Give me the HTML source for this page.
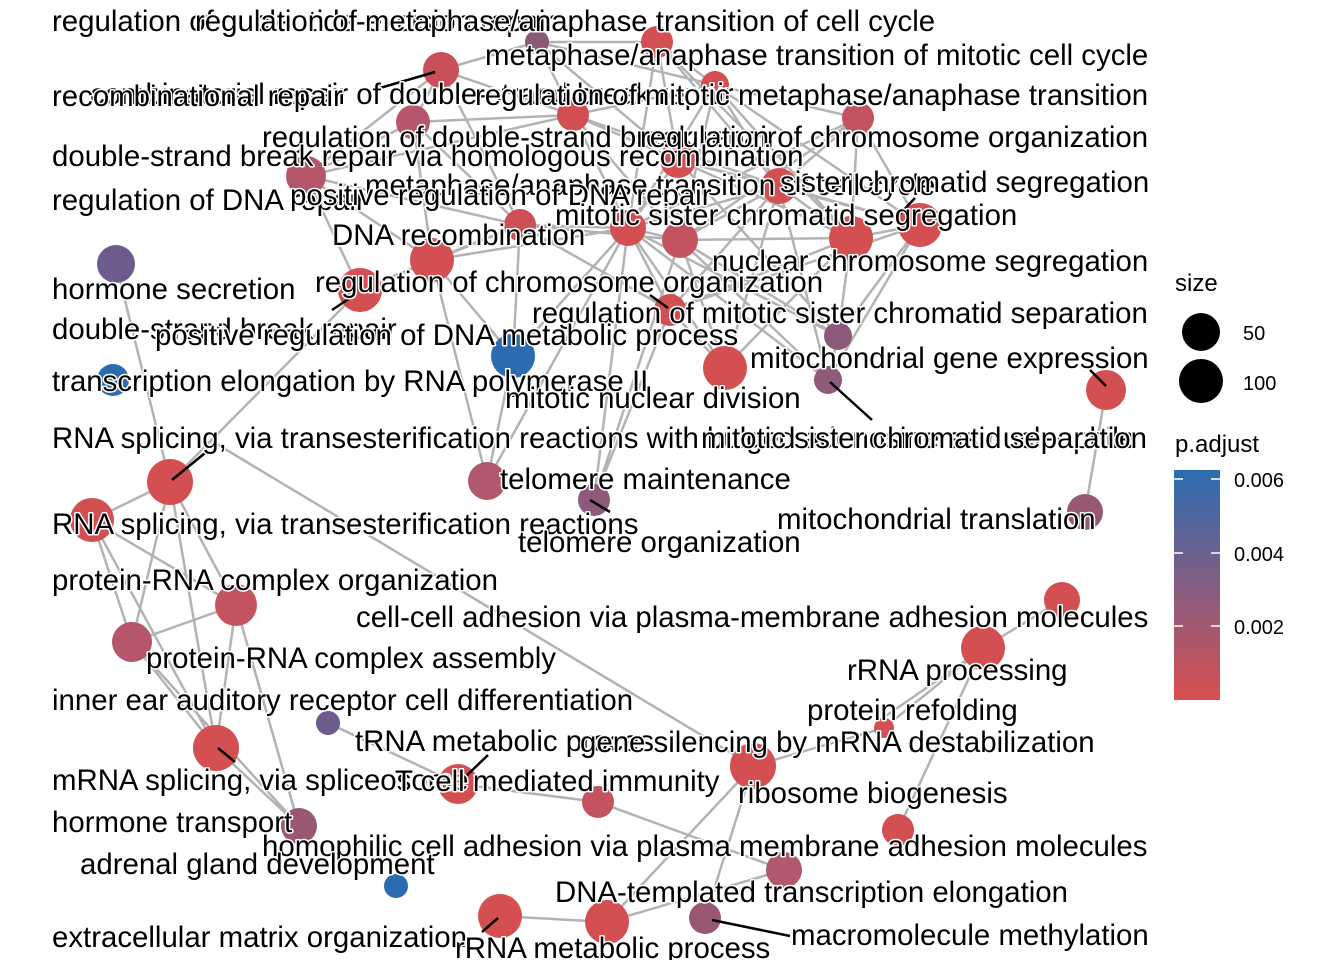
<!DOCTYPE html>
<html><head><meta charset="utf-8"><style>
html,body{margin:0;padding:0;background:#fff;}
svg text{font-family:"Liberation Sans",Arial,sans-serif;}
.l{font-size:29.4px;fill:#000;stroke:#fff;stroke-width:3px;paint-order:stroke;stroke-linejoin:round;}
.g{stroke:#b3b3b3;stroke-width:2.5;fill:none;}
.k{stroke:#000;stroke-width:2.5;}
</style></head><body>
<svg width="1344" height="960" viewBox="0 0 1344 960" xmlns="http://www.w3.org/2000/svg">
<defs><linearGradient id="gr" x1="0" y1="0" x2="0" y2="1"><stop offset="0" stop-color="#2b6cb0"/><stop offset="0.45" stop-color="#7b5f88"/><stop offset="1" stop-color="#d94f50"/></linearGradient></defs>
<g class="g">
<path d="M537 42L657 42L715 85L858 118L920 225L851 238L779 186L678 160L573 115L441 70L413 122L306 176L432 260L520 225L628 228L680 240L851 238M657 42L678 160L628 228M715 85L680 240L838 336M715 85L779 186L920 225M573 115L628 228L725 368M441 70L573 115L715 85M413 122L520 225L670 310M306 176L520 225M306 176L573 115M432 260L513 356M360 290L432 260L413 122M360 290L520 225M670 310L851 238L838 336L828 380M725 368L851 238M725 368L680 240M828 380L920 225M828 380L779 186M838 336L678 160M858 118L680 240M858 118L628 228M537 42L678 160M537 42L573 115M657 42L851 238M715 85L920 225M678 160L920 225M779 186L628 228M779 186L851 238M670 310L628 228M670 310L779 186M513 356L520 225M513 356L628 228M487 481L513 356M594 500L680 240M594 500L628 228M487 481L432 260M670 310L725 368M725 368L779 186M838 336L920 225M858 118L779 186M413 122L441 70M306 176L413 122M441 70L537 42M432 260L306 176M657 42L779 186M657 42L628 228M715 85L628 228M715 85L851 238M573 115L779 186M573 115L680 240M678 160L851 238M678 160L838 336M858 118L851 238M858 118L920 225M779 186L680 240M680 240L828 380M628 228L838 336M628 228L828 380M520 225L680 240M432 260L628 228M413 122L573 115M306 176L441 70M537 42L715 85M537 42L441 70M670 310L920 225M725 368L628 228M858 118L628 228M715 85L858 118M851 238L920 225M680 240L725 368M594 500L670 310M487 481L628 228M360 290L306 176M441 70L520 225M306 176L360 290"/>
<path d="M116 264L170 482M360 290L170 482M170 482L92 520L236 605L132 642L92 520L216 748L299 826M170 482L236 605L216 748L132 642L299 826M170 482L132 642M170 482L216 748M92 520L132 642M236 605L299 826M210 440L753 766M1106 390L1085 512M1062 600L983 648L884 728L753 766M983 648L898 830M753 766L607 922M784 870L598 802M784 870L607 922M705 918L753 766M458 784L598 802M328 723L458 784M500 916L607 922M880 720L984 648"/>
</g>
<g>
<circle cx="537" cy="42" r="12" fill="#8a5878"/><circle cx="657" cy="42" r="16" fill="#d34f52"/><circle cx="441" cy="70" r="18" fill="#c9505a"/><circle cx="715" cy="85" r="14" fill="#d34f52"/><circle cx="573" cy="115" r="16" fill="#d34f52"/><circle cx="413" cy="122" r="17" fill="#b5566a"/><circle cx="858" cy="118" r="16" fill="#c3535f"/><circle cx="678" cy="160" r="18" fill="#d34f52"/><circle cx="306" cy="176" r="20" fill="#b5566a"/><circle cx="779" cy="186" r="18" fill="#d34f52"/><circle cx="520" cy="225" r="16" fill="#cd5057"/><circle cx="628" cy="228" r="18" fill="#d34f52"/><circle cx="680" cy="240" r="18" fill="#c3535f"/><circle cx="851" cy="238" r="22" fill="#d34f52"/><circle cx="920" cy="225" r="22" fill="#d34f52"/><circle cx="432" cy="260" r="22" fill="#d34f52"/><circle cx="116" cy="264" r="19" fill="#6c5b8c"/><circle cx="360" cy="290" r="22" fill="#d34f52"/><circle cx="670" cy="310" r="16" fill="#d34f52"/><circle cx="838" cy="336" r="14" fill="#8e5a7c"/><circle cx="513" cy="356" r="22" fill="#2b6cb0"/><circle cx="725" cy="368" r="22" fill="#d34f52"/><circle cx="828" cy="380" r="14" fill="#8e5a7c"/><circle cx="113" cy="380" r="16" fill="#2b6cb0"/><circle cx="1106" cy="390" r="20" fill="#d34f52"/><circle cx="170" cy="482" r="23" fill="#d34f52"/><circle cx="487" cy="481" r="19" fill="#b0586c"/><circle cx="594" cy="500" r="16" fill="#8e5a7c"/><circle cx="1085" cy="512" r="18" fill="#985874"/><circle cx="92" cy="520" r="22" fill="#d34f52"/><circle cx="236" cy="605" r="21" fill="#c3535f"/><circle cx="1062" cy="600" r="18" fill="#d34f52"/><circle cx="132" cy="642" r="20" fill="#b5566a"/><circle cx="983" cy="648" r="22" fill="#d34f52"/><circle cx="328" cy="723" r="12" fill="#6c5b8c"/><circle cx="216" cy="748" r="23" fill="#d34f52"/><circle cx="884" cy="728" r="10" fill="#d34f52"/><circle cx="753" cy="766" r="23" fill="#d34f52"/><circle cx="458" cy="784" r="20" fill="#d34f52"/><circle cx="598" cy="802" r="16" fill="#c3535f"/><circle cx="299" cy="826" r="18" fill="#985874"/><circle cx="898" cy="830" r="16" fill="#d34f52"/><circle cx="784" cy="870" r="18" fill="#b0586c"/><circle cx="396" cy="886" r="12" fill="#2b6cb0"/><circle cx="500" cy="916" r="22" fill="#d34f52"/><circle cx="607" cy="922" r="22" fill="#d34f52"/><circle cx="705" cy="918" r="16" fill="#985874"/>
</g>
<g class="k">
<line x1="380" y1="88" x2="435" y2="72"/><line x1="650" y1="295" x2="668" y2="308"/><line x1="900" y1="214" x2="915" y2="198"/><line x1="332" y1="310" x2="350" y2="298"/><line x1="830" y1="382" x2="872" y2="420"/><line x1="1090" y1="370" x2="1106" y2="386"/><line x1="172" y1="480" x2="205" y2="453"/><line x1="590" y1="500" x2="610" y2="512"/><line x1="218" y1="748" x2="235" y2="762"/><line x1="462" y1="780" x2="488" y2="755"/><line x1="482" y1="932" x2="498" y2="918"/><line x1="712" y1="920" x2="790" y2="936"/>
</g>
<g class="l">
<text x="52" y="31">regulation of nucleotide-excision repair</text>
<text x="195" y="31">regulation of metaphase/anaphase transition of cell cycle</text>
<text x="485" y="65">metaphase/anaphase transition of mitotic cell cycle</text>
<text x="90" y="104">combinatorial repair of double-strand break repair</text>
<text x="52" y="106">recombinational repair</text>
<text x="475" y="105">regulation of mitotic metaphase/anaphase transition</text>
<text x="262" y="147">regulation of double-strand break repair</text>
<text x="640" y="147">regulation of chromosome organization</text>
<text x="52" y="166">double-strand break repair via homologous recombination</text>
<text x="365" y="195">metaphase/anaphase transition of cell cycle</text>
<text x="780" y="192">sister chromatid segregation</text>
<text x="52" y="210">regulation of DNA repair</text>
<text x="290" y="205">positive regulation of DNA repair</text>
<text x="555" y="225">mitotic sister chromatid segregation</text>
<text x="332" y="245">DNA recombination</text>
<text x="712" y="271">nuclear chromosome segregation</text>
<text x="315" y="292">regulation of chromosome organization</text>
<text x="52" y="299">hormone secretion</text>
<text x="532" y="323">regulation of mitotic sister chromatid separation</text>
<text x="52" y="339">double-strand break repair</text>
<text x="155" y="345">positive regulation of DNA metabolic process</text>
<text x="750" y="368">mitochondrial gene expression</text>
<text x="52" y="391">transcription elongation by RNA polymerase II</text>
<text x="505" y="408">mitotic nuclear division</text>
<text x="52" y="448">RNA splicing, via transesterification reactions with bulged adenosine as nucleophile</text>
<text x="701" y="448">mitotic sister chromatid separation</text>
<text x="500" y="489">telomere maintenance</text>
<text x="52" y="534">RNA splicing, via transesterification reactions</text>
<text x="777" y="529">mitochondrial translation</text>
<text x="518" y="552">telomere organization</text>
<text x="52" y="590">protein-RNA complex organization</text>
<text x="356" y="627">cell-cell adhesion via plasma-membrane adhesion molecules</text>
<text x="146" y="668">protein-RNA complex assembly</text>
<text x="847" y="680">rRNA processing</text>
<text x="52" y="710">inner ear auditory receptor cell differentiation</text>
<text x="807" y="720">protein refolding</text>
<text x="355" y="751">tRNA metabolic process</text>
<text x="580" y="752">gene silencing by mRNA destabilization</text>
<text x="52" y="790">mRNA splicing, via spliceosome</text>
<text x="395" y="791">T cell mediated immunity</text>
<text x="738" y="803">ribosome biogenesis</text>
<text x="52" y="832">hormone transport</text>
<text x="262" y="856">homophilic cell adhesion via plasma membrane adhesion molecules</text>
<text x="80" y="874">adrenal gland development</text>
<text x="555" y="902">DNA-templated transcription elongation</text>
<text x="52" y="947">extracellular matrix organization</text>
<text x="791" y="945">macromolecule methylation</text>
<text x="455" y="958">rRNA metabolic process</text>
</g>
<text x="1175" y="291" font-size="24">size</text>
<circle cx="1201" cy="332" r="19" fill="#000"/><circle cx="1201" cy="381" r="22" fill="#000"/>
<text x="1243" y="340" font-size="20">50</text><text x="1243" y="390" font-size="20">100</text>
<text x="1175" y="452" font-size="24">p.adjust</text>
<rect x="1174" y="470" width="46" height="230" fill="url(#gr)"/>
<g stroke="#fff" stroke-width="1.5"><line x1="1174" y1="479" x2="1183" y2="479"/><line x1="1211" y1="479" x2="1220" y2="479"/><line x1="1174" y1="553" x2="1183" y2="553"/><line x1="1211" y1="553" x2="1220" y2="553"/><line x1="1174" y1="626" x2="1183" y2="626"/><line x1="1211" y1="626" x2="1220" y2="626"/></g>
<text x="1234" y="487" font-size="20">0.006</text><text x="1234" y="561" font-size="20">0.004</text><text x="1234" y="634" font-size="20">0.002</text>
</svg>
</body></html>
